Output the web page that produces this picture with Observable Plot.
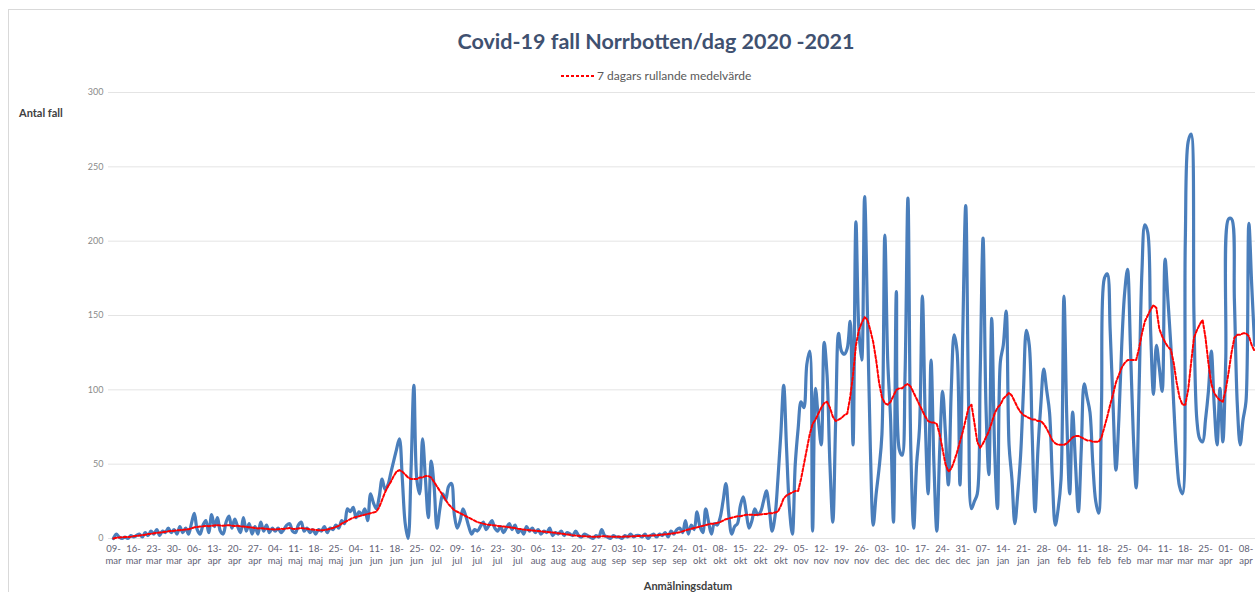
<!DOCTYPE html>
<html><head><meta charset="utf-8">
<script src="https://cdn.jsdelivr.net/npm/d3@7"></script>
<script src="https://cdn.jsdelivr.net/npm/@observablehq/plot@0.6"></script>
<style>
body{margin:0;background:#fff;font-family:Lato,"Open Sans",sans-serif;}
#page{position:relative;width:1255px;height:592px;overflow:hidden;background:#fff;}
#frame{position:absolute;left:8px;top:9px;width:1400px;height:800px;border-left:1px solid #d9d9d9;border-top:1px solid #d9d9d9;}
#title{position:absolute;top:28px;left:0;width:1312px;text-align:center;font-size:21.5px;font-weight:700;color:#3f5170;white-space:nowrap;}
#legend{position:absolute;top:68px;left:560px;display:flex;align-items:center;font-size:12px;color:#595959;white-space:nowrap;}
#ylab{position:absolute;left:19px;top:106px;font-size:11px;font-weight:700;color:#404040;}
#xlab{position:absolute;top:579px;left:0;width:1376px;text-align:center;font-size:11px;font-weight:700;color:#404040;}
#chart{position:absolute;left:0;top:80px;}
</style></head>
<body><div id="page">
<div id="frame"></div>
<div id="title">Covid-19 fall Norrbotten/dag 2020 -2021</div>
<div id="legend"><svg width="37" height="10"><line x1="1" y1="5" x2="36" y2="5" stroke="#ff0000" stroke-width="2" stroke-dasharray="3,2"/></svg><span>7 dagars rullande medelvärde</span></div>
<div id="ylab">Antal fall</div>
<div id="chart"></div>
<div id="xlab">Anmälningsdatum</div>
</div>
<script>
const tickDay = ["09","16","23","30","06","13","20","27","04","11","18","25","04","11","18","25","02","09","16","23","30","06","13","20","27","03","10","17","24","01","08","15","22","29","05","12","19","26","03","10","17","24","31","07","14","21","28","04","11","18","25","04","11","18","25","01","08"];
const tickMonth = ["mar","mar","mar","mar","apr","apr","apr","apr","maj","maj","maj","maj","jun","jun","jun","jun","jul","jul","jul","jul","jul","aug","aug","aug","aug","sep","sep","sep","sep","okt","okt","okt","okt","okt","nov","nov","nov","nov","dec","dec","dec","dec","dec","jan","jan","jan","jan","feb","feb","feb","feb","mar","mar","mar","mar","apr","apr"];
const yTicks = [0,50,100,150,200,250,300];

// daily reported cases (category index = day from 09-mar-2020)
const cases = [
0,3,1,0,1,0,2, 1,2,3,1,4,2,5, 3,6,2,5,4,7,4, 6,3,8,4,7,3,10,
17,6,3,9,12,4,16, 8,14,5,3,11,15,7, 13,8,4,14,5,10,3, 8,3,11,5,9,4,7,
5,7,4,6,9,10,5, 4,9,11,5,7,4,6, 3,6,5,8,4,7,6, 9,7,12,10,20,18,21,
14,18,16,20,12,30,24, 20,28,40,33,36,44,52, 60,67,40,10,0,45,103, 40,30,67,40,14,52,35,
7,20,30,26,35,37,16, 7,12,20,15,8,3,6, 5,8,11,6,9,12,7, 5,8,4,7,10,6,9,
4,6,3,8,5,7,4, 6,3,5,4,7,2,4, 3,5,2,4,3,2,5, 2,1,3,2,1,0,2,
1,6,2,1,0,2,1, 1,0,2,1,3,1,2, 2,1,3,0,2,3,1, 3,2,4,1,5,3,6,
7,4,12,3,9,6,18, 8,4,20,11,3,10,9, 14,25,37,16,3,8,10, 22,28,18,7,12,20,16,
18,25,32,20,5,15,40, 70,103,60,20,3,50,74, 92,88,117,126,5,101,80, 63,132,110,50,11,80,138,
126,124,128,146,63,213,141, 120,230,150,60,9,30,47, 70,204,120,80,11,166,60, 56,110,229,60,7,50,74,
163,80,30,120,50,5,60, 99,70,36,100,137,126,36, 140,224,90,20,25,30,110, 202,90,43,148,60,20,119,
130,153,63,40,10,30,56, 100,140,130,70,18,60,90, 114,100,85,40,9,20,40, 163,80,30,85,50,18,60,
104,95,85,50,25,17,90, 175,178,140,90,46,80,130, 165,181,130,70,34,100,180, 211,206,140,97,130,115,99,
188,160,130,90,55,35,30, 200,267,272,150,80,67,65, 80,99,126,90,63,101,65, 120,215,215,160,90,63,80,
92,212,170,130
];

// 7-day rolling mean as drawn (red dashed)
const rolling7 = [
0,0.5,0.7,0.8,1,1,1.2, 1.5,1.8,2,2.3,2.5,3,3.2, 3.5,3.8,4,4.2,4.5,4.8,5, 5.2,5.5,5.6,5.8,6,6.2,6.8,
7.5,7.8,8,8.2,8.5,8.3,8.6, 8.8,9,8.7,8.5,8.8,9,8.6, 8.4,8.6,8.2,8,7.8,7.6,7.4, 7,6.8,6.9,6.7,6.5,6.3,6.2,
6,6.3,6.5,6.4,6.8,7,6.6, 6.4,6.7,7,6.8,6.5,6.2,6, 5.8,5.6,5.5,5.7,6,6.5,7, 7.8,8.5,10,11,12,13,14,
14.5,15,15.5,16,16.5,17,17.5, 18,21,26,31,35,38,42, 45,46,45,43,41,40,40, 40,41,41,42,42,41,38,
35,32,29,26,23,21,19, 18,17,16,15,14,13,12, 11,10.5,10,9.5,9.2,9,8.8, 8.5,8.2,8,7.8,7.5,7.2,7,
6.6,6.3,6,5.8,5.6,5.4,5.2, 5,4.8,4.6,4.4,4.2,4,3.8, 3.5,3.2,3,2.7,2.5,2.2,2, 1.8,1.6,1.5,1.4,1.3,1.2,1.2,
1.3,1.5,1.5,1.4,1.3,1.2,1.1, 1.1,1.2,1.3,1.3,1.4,1.5,1.6, 1.7,1.8,1.8,1.9,2,2.1,2.2, 2.4,2.6,2.8,3,3.2,3.5,3.8,
4.2,4.8,5.5,6,6.5,7,7.5, 8,8.5,9,9.5,10,10,10.5, 11,12,13,13.5,14,14.5,15, 15,15.5,16,16,16,15.8,16,
16.2,16.5,16.5,17,17,17.5,18, 22,27,29,30,31,32,32, 40,50,60,70,77,80,84, 88,91,92,88,82,79,80,
81,83,84,95,110,130,140, 145,149,147,140,132,120,105, 95,91,90,92,96,100,101, 101,103,104,102,98,94,90,
86,82,79,78,78,77,70, 60,50,45,47,52,58,65, 72,80,88,90,78,65,61, 64,68,72,78,84,88,90,
94,96,98,96,92,88,85, 83,82,81,80,80,79,79, 77,74,70,66,64,63,63, 63,64,66,68,69,69,68,
67,66,66,65,65,65,68, 75,82,90,97,105,110,115, 118,120,120,120,120,128,138, 146,150,154,157,155,141,136,
132,129,127,118,105,95,90, 90,100,118,135,140,144,147, 135,118,104,98,95,93,92, 100,112,125,135,137,137,138,
138,136,130,126
];

const data = cases.map((v, i) => ({day: i, cases: v, avg: rolling7[i]}));
const ticks = tickDay.map((d, i) => ({day: i * 7, top: d + "-", bottom: tickMonth[i]}));

const chart = Plot.plot({
  width: 1255,
  height: 500,
  marginLeft: 108,
  marginRight: 0,
  marginTop: 12,
  marginBottom: 42,
  style: {fontFamily: "Lato, 'Open Sans', sans-serif", fontSize: "9px", color: "#8a8a8a", background: "transparent"},
  x: {domain: [-1.7, 395.3], axis: null},
  y: {domain: [0, 300], ticks: yTicks, tickSize: 0, tickPadding: 5, label: null},
  marks: [
    Plot.ruleY(yTicks, {stroke: "#e4e4e4", strokeWidth: 1}),
    Plot.line(data, {x: "day", y: "cases", stroke: "#4a7ebb", strokeWidth: 3.2, curve: "catmull-rom"}),
    Plot.line(data, {x: "day", y: "avg", stroke: "#ff0000", strokeWidth: 2, strokeDasharray: "3,2"}),
    Plot.text(ticks, {x: "day", text: "top", frameAnchor: "bottom", dy: 13, fontSize: 9.5, fill: "#5f6275"}),
    Plot.text(ticks, {x: "day", text: "bottom", frameAnchor: "bottom", dy: 25, fontSize: 9.5, fill: "#5f6275"})
  ]
});
document.getElementById("chart").appendChild(chart);
</script>
</body></html>
